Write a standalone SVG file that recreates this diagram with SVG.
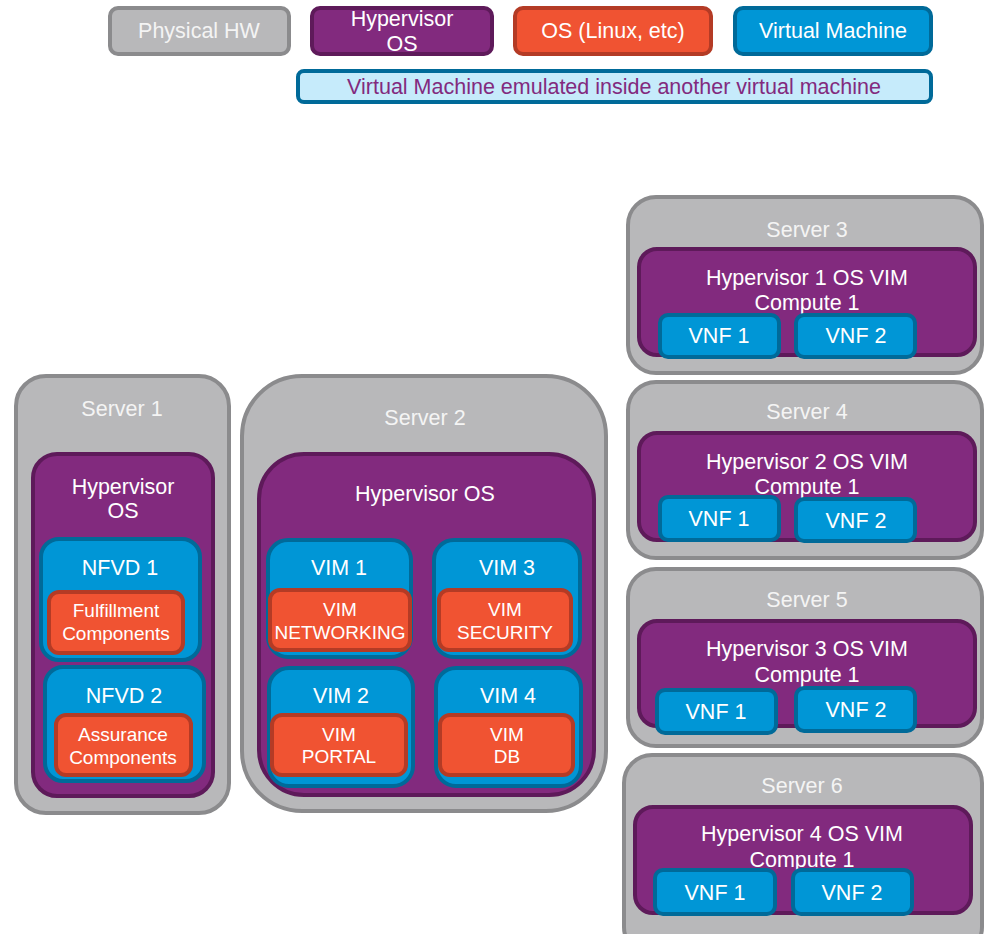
<svg xmlns="http://www.w3.org/2000/svg" width="984" height="934" viewBox="0 0 984 934">
<style>
text{font-family:"Liberation Sans",Arial,sans-serif;text-anchor:middle;font-size:21.5px;fill:#ffffff}
.hw{fill:#b8b8ba;stroke:#8b8b8d;stroke-width:4}
.hv{fill:#822a7e;stroke:#5e1a5a;stroke-width:4}
.os{fill:#f05332;stroke:#b43b25;stroke-width:4}
.vm{fill:#0096d6;stroke:#006a99;stroke-width:4}
.nv{fill:#c6ebfb;stroke:#006a99;stroke-width:4}
.gt{fill:#f4f4f4}
.sm{font-size:19px}
.pt{fill:#822a7e}
</style>
<rect width="984" height="934" fill="#ffffff"/>
<g id="legend">
  <g id="legend-hw"><rect class="hw" x="110" y="8" width="179" height="46" rx="8"/><text class="gt" x="199" y="38">Physical HW</text></g>
  <g id="legend-hv"><rect class="hv" x="312" y="8" width="180" height="46" rx="8"/><text x="402" y="26">Hypervisor</text><text x="402" y="51">OS</text></g>
  <g id="legend-os"><rect class="os" x="515" y="8" width="196" height="46" rx="8"/><text x="613" y="38">OS (Linux, etc)</text></g>
  <g id="legend-vm"><rect class="vm" x="735" y="8" width="196" height="46" rx="8"/><text x="833" y="38">Virtual Machine</text></g>
  <g id="legend-nested"><rect class="nv" x="298" y="71" width="633" height="31" rx="6"/><text class="pt" x="614" y="94">Virtual Machine emulated inside another virtual machine</text></g>
</g>
<g id="server1">
  <rect class="hw" x="16" y="376" width="213" height="437" rx="30"/>
  <text class="gt" x="122" y="416">Server 1</text>
  <g id="s1-hyp">
    <rect class="hv" x="33" y="454" width="180" height="342" rx="24"/>
    <text x="123" y="494">Hypervisor</text><text x="123" y="518">OS</text>
  </g>
  <g id="nfvd1">
    <rect class="vm" x="41" y="539" width="159" height="121" rx="18"/>
    <text x="120" y="575">NFVD 1</text>
    <rect class="os" x="49" y="592" width="134" height="61" rx="10"/>
    <text class="sm" x="116" y="617">Fulfillment</text><text class="sm" x="116" y="640">Components</text>
  </g>
  <g id="nfvd2">
    <rect class="vm" x="45" y="667" width="159" height="114" rx="18"/>
    <text x="124" y="703">NFVD 2</text>
    <rect class="os" x="56" y="715" width="135" height="60" rx="10"/>
    <text class="sm" x="123" y="741">Assurance</text><text class="sm" x="123" y="764">Components</text>
  </g>
</g>
<g id="server2">
  <rect class="hw" x="242" y="376" width="364" height="435" rx="60"/>
  <text class="gt" x="425" y="425">Server 2</text>
  <g id="s2-hyp">
    <rect class="hv" x="259" y="454" width="335" height="341" rx="45"/>
    <text x="425" y="501">Hypervisor OS</text>
  </g>
  <g id="vim1">
    <rect class="vm" x="268" y="540" width="143" height="117" rx="20"/>
    <text x="339" y="575">VIM 1</text>
    <rect class="os" x="270" y="590" width="140" height="60" rx="10"/>
    <text class="sm" x="340" y="616">VIM</text><text class="sm" x="340" y="639">NETWORKING</text>
  </g>
  <g id="vim3">
    <rect class="vm" x="434" y="540" width="146" height="117" rx="20"/>
    <text x="507" y="575">VIM 3</text>
    <rect class="os" x="439" y="590" width="132" height="60" rx="10"/>
    <text class="sm" x="505" y="616">VIM</text><text class="sm" x="505" y="639">SECURITY</text>
  </g>
  <g id="vim2">
    <rect class="vm" x="269" y="668" width="144" height="118" rx="20"/>
    <text x="341" y="703">VIM 2</text>
    <rect class="os" x="272" y="715" width="134" height="60" rx="10"/>
    <text class="sm" x="339" y="741">VIM</text><text class="sm" x="339" y="763">PORTAL</text>
  </g>
  <g id="vim4">
    <rect class="vm" x="436" y="668" width="145" height="118" rx="20"/>
    <text x="508" y="703">VIM 4</text>
    <rect class="os" x="440" y="715" width="133" height="60" rx="10"/>
    <text class="sm" x="507" y="741">VIM</text><text class="sm" x="507" y="763">DB</text>
  </g>
</g>
<g id="server3">
  <rect class="hw" x="628" y="197" width="354" height="176" rx="28"/>
  <text class="gt" x="807" y="237">Server 3</text>
  <rect class="hv" x="639" y="249" width="336" height="106" rx="18"/>
  <text x="807" y="285">Hypervisor 1 OS VIM</text><text x="807" y="310">Compute 1</text>
  <g id="s3-vnf1"><rect class="vm" x="660" y="315" width="119" height="42" rx="8"/><text x="719" y="343">VNF 1</text></g>
  <g id="s3-vnf2"><rect class="vm" x="796" y="315" width="119" height="42" rx="8"/><text x="856" y="343">VNF 2</text></g>
</g>
<g id="server4">
  <rect class="hw" x="628" y="382" width="354" height="176" rx="28"/>
  <text class="gt" x="807" y="419">Server 4</text>
  <rect class="hv" x="639" y="433" width="336" height="107" rx="18"/>
  <text x="807" y="469">Hypervisor 2 OS VIM</text><text x="807" y="494">Compute 1</text>
  <g id="s4-vnf1"><rect class="vm" x="660" y="497" width="119" height="43" rx="8"/><text x="719" y="526">VNF 1</text></g>
  <g id="s4-vnf2"><rect class="vm" x="796" y="499" width="119" height="42" rx="8"/><text x="856" y="528">VNF 2</text></g>
</g>
<g id="server5">
  <rect class="hw" x="628" y="569" width="354" height="177" rx="28"/>
  <text class="gt" x="807" y="607">Server 5</text>
  <rect class="hv" x="639" y="621" width="336" height="105" rx="18"/>
  <text x="807" y="656">Hypervisor 3 OS VIM</text><text x="807" y="682">Compute 1</text>
  <g id="s5-vnf1"><rect class="vm" x="657" y="690" width="119" height="43" rx="8"/><text x="716" y="719">VNF 1</text></g>
  <g id="s5-vnf2"><rect class="vm" x="796" y="688" width="119" height="43" rx="8"/><text x="856" y="717">VNF 2</text></g>
</g>
<g id="server6">
  <rect class="hw" x="624" y="755" width="358" height="200" rx="28"/>
  <text class="gt" x="802" y="793">Server 6</text>
  <rect class="hv" x="635" y="807" width="336" height="106" rx="18"/>
  <text x="802" y="841">Hypervisor 4 OS VIM</text><text x="802" y="867">Compute 1</text>
  <g id="s6-vnf1"><rect class="vm" x="655" y="870" width="120" height="44" rx="8"/><text x="715" y="900">VNF 1</text></g>
  <g id="s6-vnf2"><rect class="vm" x="793" y="870" width="119" height="44" rx="8"/><text x="852" y="900">VNF 2</text></g>
</g>
<g id="connectors"/>
</svg>
